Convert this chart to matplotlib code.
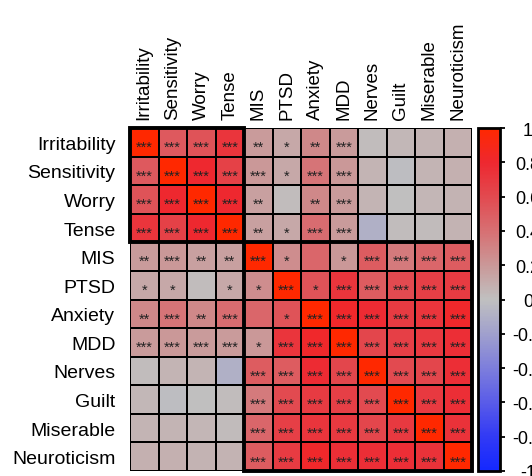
import matplotlib
matplotlib.use('Agg')
import matplotlib.pyplot as plt
import numpy as np
from matplotlib.colors import LinearSegmentedColormap
from matplotlib.patches import Rectangle

plt.rcParams['font.family'] = ['Liberation Sans', 'DejaVu Sans']

labels = ['Irritability', 'Sensitivity', 'Worry', 'Tense', 'MIS', 'PTSD',
          'Anxiety', 'MDD', 'Nerves', 'Guilt', 'Miserable', 'Neuroticism']

# correlations (symétriques)
corr = [
    [1.00, 0.52, 0.55, 0.72, 0.18, 0.12, 0.28, 0.18, 0.02, 0.04, 0.06, 0.08],
    [0.52, 1.00, 0.80, 0.65, 0.20, 0.12, 0.38, 0.20, 0.06, -0.02, 0.06, 0.08],
    [0.55, 0.80, 1.00, 0.80, 0.16, 0.02, 0.28, 0.18, 0.06, 0.00, 0.05, 0.07],
    [0.72, 0.65, 0.80, 1.00, 0.16, 0.12, 0.42, 0.18, -0.10, 0.02, 0.03, 0.07],
    [0.18, 0.20, 0.16, 0.16, 1.00, 0.25, 0.45, 0.20, 0.50, 0.35, 0.45, 0.50],
    [0.12, 0.12, 0.02, 0.12, 0.25, 1.00, 0.55, 0.72, 0.50, 0.60, 0.66, 0.68],
    [0.28, 0.38, 0.28, 0.42, 0.45, 0.55, 1.00, 0.82, 0.78, 0.68, 0.72, 0.82],
    [0.18, 0.20, 0.18, 0.18, 0.20, 0.72, 0.82, 1.00, 0.62, 0.66, 0.70, 0.76],
    [0.02, 0.06, 0.06, -0.10, 0.50, 0.50, 0.78, 0.62, 1.00, 0.60, 0.62, 0.76],
    [0.04, -0.02, 0.00, 0.02, 0.35, 0.60, 0.68, 0.66, 0.60, 1.00, 0.70, 0.76],
    [0.06, 0.06, 0.05, 0.03, 0.45, 0.66, 0.72, 0.70, 0.62, 0.70, 1.00, 0.74],
    [0.08, 0.08, 0.07, 0.07, 0.50, 0.68, 0.82, 0.76, 0.76, 0.76, 0.74, 1.00],
]

# niveaux de significativité
stars = [
    ['***', '***', '***', '***', '**', '*', '**', '***', '', '', '', ''],
    ['***', '***', '***', '***', '***', '*', '***', '***', '', '', '', ''],
    ['***', '***', '***', '***', '**', '', '**', '***', '', '', '', ''],
    ['***', '***', '***', '***', '**', '*', '***', '***', '', '', '', ''],
    ['**', '***', '**', '**', '***', '*', '', '*', '***', '***', '***', '***'],
    ['*', '*', '', '*', '*', '***', '*', '***', '***', '***', '***', '***'],
    ['**', '***', '**', '***', '', '*', '***', '***', '***', '***', '***', '***'],
    ['***', '***', '***', '***', '*', '***', '***', '***', '***', '***', '***', '***'],
    ['', '', '', '', '***', '***', '***', '***', '***', '***', '***', '***'],
    ['', '', '', '', '***', '***', '***', '***', '***', '***', '***', '***'],
    ['', '', '', '', '***', '***', '***', '***', '***', '***', '***', '***'],
    ['', '', '', '', '***', '***', '***', '***', '***', '***', '***', '***'],
]

cbar_ticks = [1, 0.8, 0.6, 0.4, 0.2, 0, -0.2, -0.4, -0.6, -0.8, -1]

stops = [
    (0.00, (20, 40, 255)), (0.10, (50, 58, 245)), (0.20, (90, 92, 232)),
    (0.30, (125, 126, 220)), (0.40, (160, 160, 205)), (0.50, (192, 192, 192)),
    (0.60, (202, 152, 152)), (0.70, (215, 112, 115)), (0.80, (226, 74, 80)),
    (0.90, (238, 40, 48)), (1.00, (255, 40, 0)),
]
cmap = LinearSegmentedColormap.from_list(
    'bgr', [(p, tuple(c / 255 for c in rgb)) for p, rgb in stops])

fig = plt.figure(figsize=(5.32, 4.77), dpi=100)
W, H = 532, 477
ax = fig.add_axes([130 / W, 1 - 472 / H, 342 / W, 343 / H])

n = len(labels)
data = np.array(corr)
mesh = ax.pcolormesh(np.arange(n + 1), np.arange(n + 1), data, cmap=cmap,
                     vmin=-1, vmax=1, edgecolors='black', linewidth=1.4)
ax.set_xlim(0, n)
ax.set_ylim(n, 0)

for i in range(n):
    for j in range(n):
        if stars[i][j]:
            ax.text(j + 0.5, i + 0.66, stars[i][j], ha='center', va='center',
                    fontsize=10.5, color='#222222')

# blocs encadrés
ax.add_patch(Rectangle((0, 0), 4, 4, fill=False, edgecolor='black', lw=2.8,
                       clip_on=False, zorder=5))
ax.add_patch(Rectangle((4, 4), 8, 8, fill=False, edgecolor='black', lw=2.8,
                       clip_on=False, zorder=5))

ax.xaxis.tick_top()
ax.set_xticks(np.arange(n) + 0.5)
ax.set_xticklabels(labels, rotation=90, fontsize=13.5)
ax.set_yticks(np.arange(n) + 0.5)
ax.set_yticklabels(labels, fontsize=14)
ax.tick_params(axis='x', length=0, pad=6.5)
ax.tick_params(axis='y', length=0, pad=10.5)
for s in ax.spines.values():
    s.set_visible(False)

cax = fig.add_axes([478 / W, 1 - 472 / H, 22 / W, 343 / H])
cb = fig.colorbar(mesh, cax=cax, ticks=cbar_ticks)
cb.outline.set_linewidth(2)
cb.ax.tick_params(length=3.6, width=1.3, pad=16.5, labelsize=13)
cb.ax.set_yticklabels([f'{v:g}' for v in cbar_ticks])
for t in cb.ax.get_yticklabels():
    t.set_horizontalalignment('center')

fig.savefig('out.png', dpi=100)
